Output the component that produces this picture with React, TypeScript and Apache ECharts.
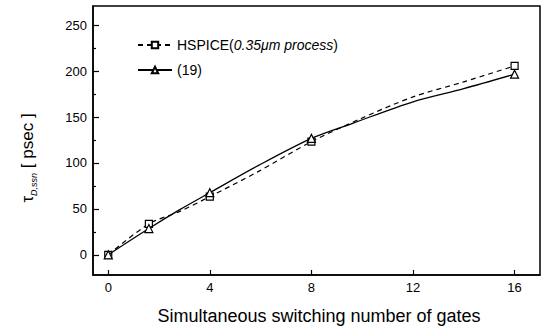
import React, { useEffect, useRef } from "react";
import * as echarts from "echarts";

const xTicks = [0, 4, 8, 12, 16];
const yLabels = [0, 50, 100, 150, 200, 250];
const yMinor = [25, 75, 125, 175, 225];

// marker points (x = switching gates, y = psec)
const markerX = [0, 1.6, 4, 8, 16];
const hspiceMarkers = [0, 33.7, 63.4, 123.2, 205.8];
const modelMarkers = [0, 28.6, 67.7, 126.8, 196.7];

// intermediate curve points
const hspiceCurveX = [2.8, 5.9, 10, 12, 14];
const hspiceCurveY = [47, 90.6, 149, 172, 188.4];
const modelCurveX = [2.8, 5.9, 9.6, 12, 14];
const modelCurveY = [48.9, 97.1, 143, 166.7, 181];

const hspiceName = "HSPICE(0.35μm process)";
const modelName = "(19)";

function buildData(mx: number[], my: number[], cx: number[], cy: number[]) {
  const pts: { value: number[]; symbol?: string }[] = [];
  mx.forEach((x, i) => pts.push({ value: [x, my[i]] }));
  cx.forEach((x, i) => pts.push({ value: [x, cy[i]], symbol: "none" }));
  pts.sort((a, b) => a.value[0] - b.value[0]);
  return pts;
}

export default function App() {
  const ref = useRef<HTMLDivElement>(null);
  useEffect(() => {
    document.body.style.margin = "0";
    if (!ref.current) return;
    const chart = echarts.init(ref.current, undefined, { renderer: "svg" });
    const font = "Liberation Sans, Arial, sans-serif";
    chart.setOption({
      animation: false,
      backgroundColor: "#fff",
      grid: {
        left: 93,
        right: 5,
        top: 6,
        bottom: 54,
        show: true,
        borderColor: "#000",
        borderWidth: 1.5,
        backgroundColor: "transparent",
      },
      legend: {
        orient: "vertical",
        left: 132,
        top: 33,
        itemWidth: 34,
        itemHeight: 8,
        itemGap: 11,
        data: [hspiceName, modelName],
        textStyle: {
          fontFamily: font,
          fontSize: 14,
          color: "#000",
          rich: {
            n: { fontFamily: font, fontSize: 14, color: "#000" },
            i: { fontFamily: font, fontSize: 14, color: "#000", fontStyle: "italic" },
          },
        },
        formatter: (name: string) =>
          name === hspiceName ? "{n|HSPICE(}{i|0.35μm process}{n|)}" : "{n|" + name + "}",
      },
      xAxis: {
        type: "value",
        min: -0.6,
        max: 17,
        axisLine: { show: true, onZero: false, lineStyle: { color: "#000", width: 1.5 } },
        axisTick: {
          show: true,
          inside: true,
          length: 5,
          customValues: xTicks,
          lineStyle: { color: "#000", width: 1.2 },
        },
        axisLabel: {
          customValues: xTicks,
          color: "#000",
          fontFamily: font,
          fontSize: 13,
          margin: 6,
        },
        splitLine: { show: false },
      },
      yAxis: [
        {
          type: "value",
          min: -22,
          max: 271,
          axisLine: { show: true, onZero: false, lineStyle: { color: "#000", width: 1.5 } },
          axisTick: {
            show: true,
            inside: true,
            length: 6,
            customValues: yLabels,
            lineStyle: { color: "#000", width: 1.2 },
          },
          axisLabel: {
            customValues: yLabels,
            color: "#000",
            fontFamily: font,
            fontSize: 13,
            margin: 6,
          },
          splitLine: { show: false },
        },
        {
          type: "value",
          min: -22,
          max: 271,
          position: "left",
          axisLine: { show: false, onZero: false },
          axisTick: {
            show: true,
            inside: true,
            length: 3,
            customValues: yMinor,
            lineStyle: { color: "#000", width: 1.2 },
          },
          axisLabel: { show: false },
          splitLine: { show: false },
        },
      ],
      graphic: [
        {
          type: "text",
          x: 27,
          y: 158,
          rotation: Math.PI / 2,
          style: {
            text: "{t|τ}{s|D,ssn}{n| [ psec ]}",
            fill: "#000",
            align: "center",
            verticalAlign: "middle",
            rich: {
              t: { fontFamily: font, fontSize: 17, fill: "#000", verticalAlign: "middle", lineHeight: 22 },
              s: { fontFamily: font, fontSize: 9, fontStyle: "italic", fill: "#000", verticalAlign: "bottom", lineHeight: 22 },
              n: { fontFamily: font, fontSize: 17, fill: "#000", verticalAlign: "middle", lineHeight: 22 },
            },
          },
        },
        {
          type: "text",
          x: 319,
          y: 316,
          style: {
            text: "Simultaneous switching number of gates",
            fontFamily: font,
            fontSize: 18,
            fill: "#000",
            align: "center",
            verticalAlign: "middle",
          },
        },
      ],
      series: [
        {
          name: hspiceName,
          type: "line",
          smooth: 0.3,
          symbol: "rect",
          symbolSize: 7,
          itemStyle: { color: "#fff", borderColor: "#000", borderWidth: 1.2 },
          lineStyle: { color: "#000", width: 1.2, type: [5, 4] },
          data: buildData(markerX, hspiceMarkers, hspiceCurveX, hspiceCurveY),
          z: 3,
        },
        {
          name: modelName,
          type: "line",
          smooth: 0.3,
          symbol: "triangle",
          symbolSize: 8,
          itemStyle: { color: "#fff", borderColor: "#000", borderWidth: 1.2 },
          lineStyle: { color: "#000", width: 1.3, type: "solid" },
          data: buildData(markerX, modelMarkers, modelCurveX, modelCurveY),
          z: 4,
        },
      ],
    });
    return () => chart.dispose();
  }, []);
  return <div ref={ref} style={{ width: 545, height: 329 }} />;
}
